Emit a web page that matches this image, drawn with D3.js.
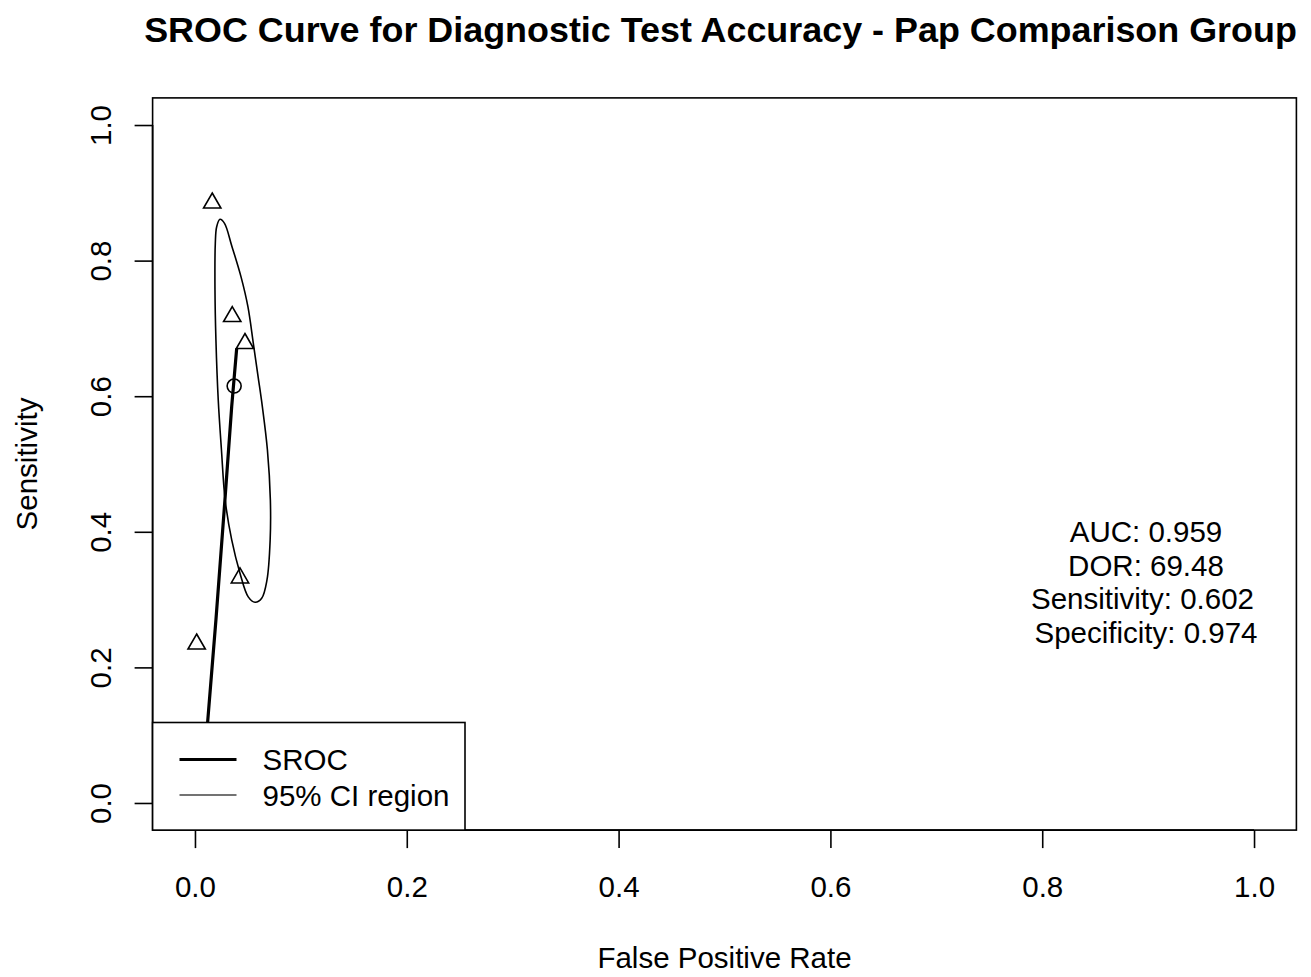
<!DOCTYPE html>
<html>
<head>
<meta charset="utf-8">
<script src="https://cdn.jsdelivr.net/npm/d3@7"></script>
<style>
  html, body { margin: 0; padding: 0; background: #fff; }
  svg { display: block; }
  text { font-family: "Liberation Sans", Arial, Helvetica, sans-serif; fill: #000; }
</style>
</head>
<body>
<svg id="chart" width="1311" height="977"></svg>
<script>
// Study-level estimates: false positive rate and sensitivity
const studyFpr  = [0.0163, 0.0352, 0.0472, 0.0425, 0.0016];
const studySens = [0.885, 0.7175, 0.6777, 0.3319, 0.2345];

// Summary operating point
const summaryFpr  = [0.037];
const summarySens = [0.615];

// SROC curve (fpr, sensitivity), ordered by fpr
const srocFpr  = [0.0112, 0.0120, 0.0198, 0.0283, 0.0347, 0.0394];
const srocSens = [0.105, 0.120, 0.270, 0.447, 0.585, 0.6706];

// 95% confidence region outline (fpr, sensitivity), clockwise from the top
const ciFpr  = [0.0236, 0.0279, 0.0347, 0.0435, 0.0500, 0.0551, 0.0596, 0.0636, 0.0684, 0.0712, 0.0710, 0.0680,
                0.0630, 0.0567, 0.0503, 0.0425, 0.0347, 0.0285, 0.0250, 0.0220, 0.0198, 0.0189, 0.0192, 0.0205];
const ciSens = [0.861, 0.855, 0.822, 0.776, 0.732, 0.678, 0.629, 0.585, 0.521, 0.447, 0.388, 0.329,
                0.302, 0.296, 0.304, 0.339, 0.388, 0.447, 0.521, 0.594, 0.683, 0.757, 0.825, 0.850];

// Axis ticks
const xTicks = [0, 0.2, 0.4, 0.6, 0.8, 1.0];
const yTicks = [0, 0.2, 0.4, 0.6, 0.8, 1.0];

// Text
const titleText = "SROC Curve for Diagnostic Test Accuracy - Pap Comparison Group";
const xLabel = "False Positive Rate";
const yLabel = "Sensitivity";
const statsLines = ["AUC: 0.959", "DOR: 69.48", "Sensitivity: 0.602", "Specificity: 0.974"];
const legendLabels = ["SROC", "95% CI region"];

(function drawChart() {
  const svg = d3.select("#chart");
  const BASE = 29.5;          // base font size
  const LW = 1.6;             // default line width

  const x = d3.scaleLinear().domain([-0.04, 1.04]).range([152.6, 1296.4]);
  const y = d3.scaleLinear().domain([-0.04, 1.04]).range([830.1, 97.9]);
  const [plotLeft, plotRight] = x.range();
  const [plotBottom, plotTop] = y.range();
  const midX = (plotLeft + plotRight) / 2;
  const midY = (plotTop + plotBottom) / 2;

  // Title
  svg.append("text")
    .attr("x", midX - 4).attr("y", 42)
    .attr("text-anchor", "middle")
    .style("font-size", "35.9px")
    .style("font-weight", "bold")
    .text(titleText);

  // Axes
  const xAxis = d3.axisBottom(x).tickValues(xTicks).tickFormat(d3.format(".1f"))
    .tickSizeInner(18).tickSizeOuter(0);
  const gx = svg.append("g").attr("transform", `translate(0,${plotBottom})`).call(xAxis);
  gx.select(".domain").remove();
  gx.selectAll(".tick line").attr("stroke", "#000").attr("stroke-width", LW);
  gx.selectAll(".tick text").attr("y", 67).attr("dy", 0)
    .style("font-size", BASE + "px").attr("fill", "#000");
  gx.append("line")
    .attr("x1", x(xTicks[0])).attr("x2", x(xTicks[xTicks.length - 1]))
    .attr("stroke", "#000").attr("stroke-width", LW);

  const yAxis = d3.axisLeft(y).tickValues(yTicks).tickFormat(d3.format(".1f"))
    .tickSizeInner(18).tickSizeOuter(0);
  const gy = svg.append("g").attr("transform", `translate(${plotLeft},0)`).call(yAxis);
  gy.select(".domain").remove();
  gy.selectAll(".tick line").attr("stroke", "#000").attr("stroke-width", LW);
  gy.selectAll(".tick text")
    .attr("transform", "rotate(-90)")
    .attr("x", 0).attr("y", -42).attr("dy", 0)
    .attr("text-anchor", "middle")
    .style("font-size", BASE + "px").attr("fill", "#000");
  gy.append("line")
    .attr("y1", y(yTicks[0])).attr("y2", y(yTicks[yTicks.length - 1]))
    .attr("stroke", "#000").attr("stroke-width", LW);

  // Axis titles
  svg.append("text")
    .attr("x", midX).attr("y", 968)
    .attr("text-anchor", "middle")
    .style("font-size", BASE + "px")
    .text(xLabel);
  svg.append("text")
    .attr("transform", `translate(37,${midY}) rotate(-90)`)
    .attr("text-anchor", "middle")
    .style("font-size", BASE + "px")
    .text(yLabel);

  // Plot contents
  const plot = svg.append("g");

  // Study points (open triangles)
  const studies = studyFpr.map((f, i) => ({ f, s: studySens[i] }));
  plot.selectAll("path.study").data(studies).join("path")
    .attr("class", "study")
    .attr("d", d3.symbol(d3.symbolTriangle, 130))
    .attr("transform", d => `translate(${x(d.f)},${y(d.s)})`)
    .attr("fill", "none").attr("stroke", "#000").attr("stroke-width", LW);

  // Summary point (open circle)
  const summary = summaryFpr.map((f, i) => ({ f, s: summarySens[i] }));
  plot.selectAll("circle.summary").data(summary).join("circle")
    .attr("class", "summary")
    .attr("cx", d => x(d.f)).attr("cy", d => y(d.s)).attr("r", 7)
    .attr("fill", "none").attr("stroke", "#000").attr("stroke-width", LW);

  // Confidence region
  const ci = ciFpr.map((f, i) => [f, ciSens[i]]);
  plot.append("path")
    .datum(ci)
    .attr("d", d3.line().x(d => x(d[0])).y(d => y(d[1])).curve(d3.curveCatmullRomClosed.alpha(0.5)))
    .attr("fill", "none").attr("stroke", "#000").attr("stroke-width", LW);

  // SROC curve
  const sroc = srocFpr.map((f, i) => [f, srocSens[i]]);
  plot.append("path")
    .datum(sroc)
    .attr("d", d3.line().x(d => x(d[0])).y(d => y(d[1])))
    .attr("fill", "none").attr("stroke", "#000").attr("stroke-width", 3.2);

  // Summary statistics text
  const statsX = 1146;
  const statsY0 = 542;
  const statsStep = 33.5;
  svg.append("g").selectAll("text").data(statsLines).join("text")
    .attr("x", (d, i) => i === 2 ? statsX - 3.5 : statsX)
    .attr("y", (d, i) => statsY0 + i * statsStep)
    .attr("text-anchor", "middle")
    .style("font-size", BASE + "px")
    .text(d => d);

  // Plot frame
  svg.append("rect")
    .attr("x", plotLeft).attr("y", plotTop)
    .attr("width", plotRight - plotLeft).attr("height", plotBottom - plotTop)
    .attr("fill", "none").attr("stroke", "#000").attr("stroke-width", LW);

  // Legend
  const legend = svg.append("g");
  legend.append("rect")
    .attr("x", plotLeft).attr("y", 722.5)
    .attr("width", 465 - plotLeft).attr("height", plotBottom - 722.5)
    .attr("fill", "#fff").attr("stroke", "#000").attr("stroke-width", LW);
  const legendWidths = [3.2, LW];
  const legendYs = [759.5, 795];
  legendLabels.forEach((lab, i) => {
    legend.append("line")
      .attr("x1", 179.5).attr("x2", 236.5)
      .attr("y1", legendYs[i]).attr("y2", legendYs[i])
      .attr("stroke", i === 0 ? "#000" : "#444").attr("stroke-width", legendWidths[i]);
    legend.append("text")
      .attr("x", 262.5).attr("y", legendYs[i] + 10.5)
      .style("font-size", BASE + "px")
      .text(lab);
  });
})();
</script>
</body>
</html>
